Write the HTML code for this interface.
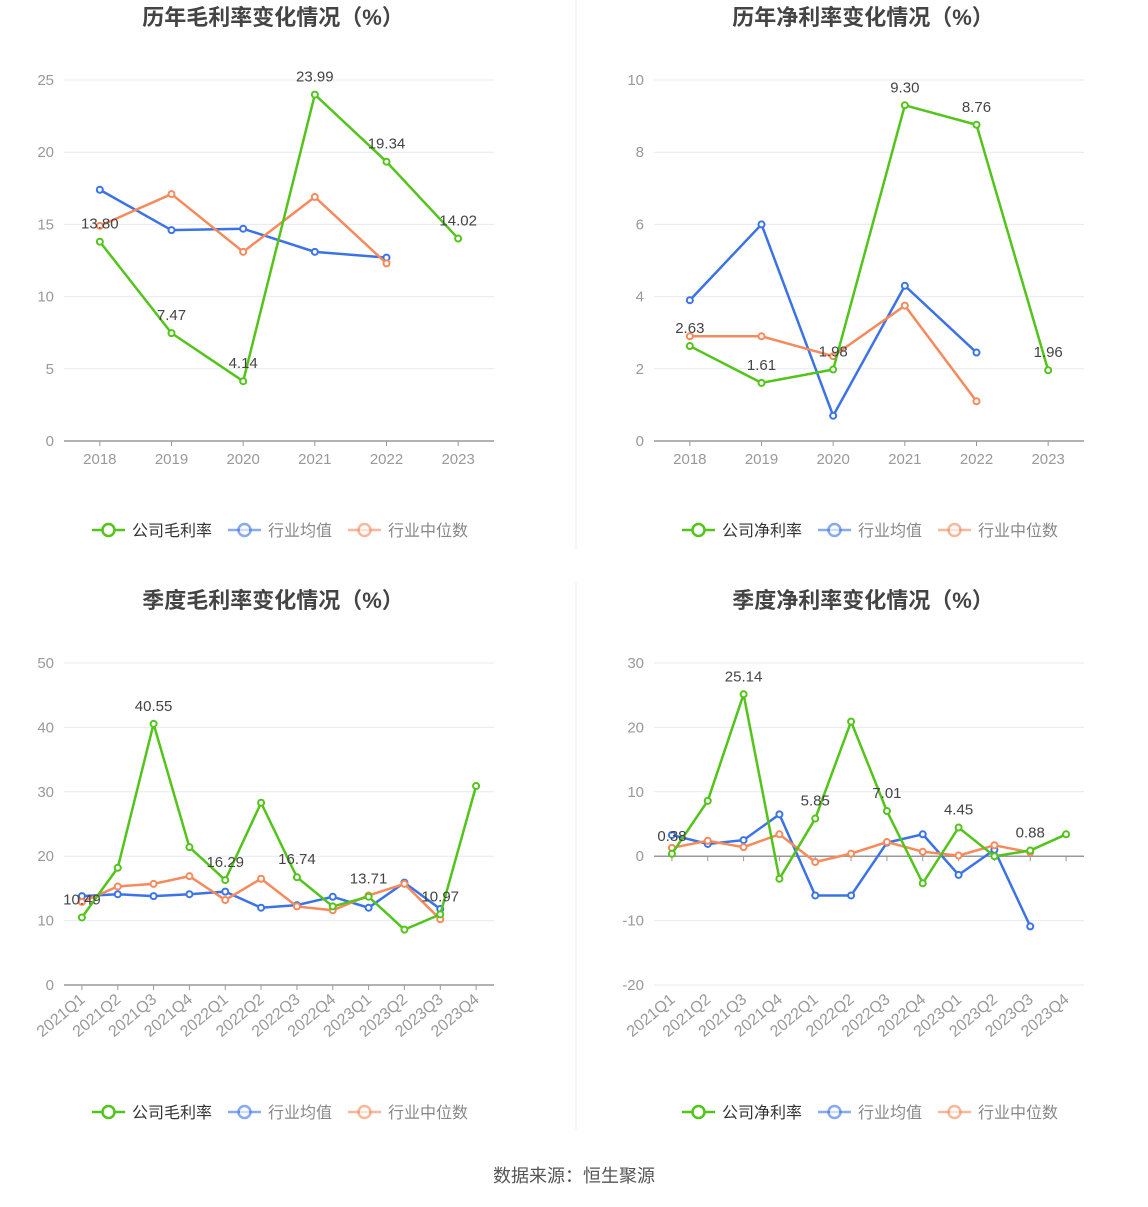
<!DOCTYPE html>
<html><head><meta charset="utf-8"><style>
body{margin:0;background:#fff;font-family:"Liberation Sans","Noto Sans CJK SC",sans-serif;}
svg text{font-family:"Liberation Sans","Noto Sans CJK SC",sans-serif;}
</style></head><body>
<svg id="s" width="1148" height="1202" xmlns="http://www.w3.org/2000/svg">
<line x1="576" y1="0" x2="576" y2="550" stroke="#eee"/>
<line x1="576" y1="582" x2="576" y2="1130" stroke="#eee"/>
<text x="574" y="1182" font-size="18" fill="#555" text-anchor="middle">数据来源：恒生聚源</text>
</svg>
<script>
const annualCats=["2018","2019","2020","2021","2022","2023"];
const quarterCats=["2021Q1","2021Q2","2021Q3","2021Q4","2022Q1","2022Q2","2022Q3","2022Q4","2023Q1","2023Q2","2023Q3","2023Q4"];
const grossCompany=[13.80,7.47,4.14,23.99,19.34,14.02];
const grossAvg=[17.4,14.6,14.7,13.1,12.7,null];
const grossMedian=[14.9,17.1,13.1,16.9,12.3,null];
const netCompany=[2.63,1.61,1.98,9.30,8.76,1.96];
const netAvg=[3.9,6.0,0.7,4.3,2.45,null];
const netMedian=[2.9,2.9,2.35,3.75,1.1,null];
const qGrossCompany=[10.49,18.2,40.55,21.4,16.29,28.3,16.74,12.2,13.71,8.6,10.97,30.9];
const qGrossAvg=[13.8,14.1,13.8,14.1,14.5,12.0,12.4,13.7,12.0,15.9,11.8,null];
const qGrossMedian=[12.9,15.3,15.7,16.9,13.2,16.5,12.2,11.6,13.9,15.7,10.2,null];
const qNetCompany=[0.38,8.6,25.14,-3.5,5.85,20.9,7.01,-4.2,4.45,0.0,0.88,3.4];
const qNetAvg=[3.3,1.9,2.5,6.5,-6.1,-6.1,2.1,3.4,-2.9,1.0,-10.9,null];
const qNetMedian=[1.3,2.4,1.4,3.4,-0.9,0.4,2.2,0.7,0.1,1.7,0.6,null];
const annualGrossTicks=[0,5,10,15,20,25];
const annualNetTicks=[0,2,4,6,8,10];
const qGrossTicks=[0,10,20,30,40,50];
const qNetTicks=[-20,-10,0,10,20,30];

const NS="http://www.w3.org/2000/svg",S=document.getElementById('s');
const G="#52c41a",B="#3b73e6",O="#f58a5c";
function mk(t,a,p){const e=document.createElementNS(NS,t);for(const k in a)e.setAttribute(k,a[k]);(p||S).appendChild(e);return e;}
function chart(o){
 const g=mk('g',{});
 
 
 const x0=o.x0,x1=o.x0+430,yT=o.yT,yB=o.yB,mn=o.ticks[0],mx=o.ticks[o.ticks.length-1];
 const Y=v=>yB-(v-mn)/(mx-mn)*(yB-yT);
 const n=o.cats.length,bw=430/n,X=i=>x0+bw*(i+0.5);
 let t=mk('text',{x:x0+209,y:o.yT-55,'font-size':22,'font-weight':'bold',fill:'#444','text-anchor':'middle'},g);t.textContent=o.title;
 
 o.ticks.forEach(v=>{
  const l=mk('line',{x1:x0,x2:x1,y1:Y(v),y2:Y(v),stroke:'#e6e9f4'},g);
  
  const tt=mk('text',{x:x0-10,y:Y(v)+5,'font-size':15,fill:'#999','text-anchor':'end'},g);tt.textContent=v;
  
 });
 const ya=Y(0);
 const ax=mk('line',{x1:x0,x2:x1,y1:ya,y2:ya,stroke:'#999','stroke-width':1.5},g);
 
 o.cats.forEach((c,i)=>{
  mk('line',{x1:X(i),x2:X(i),y1:ya,y2:ya+5,stroke:'#999'},g);
  let tx;
  if(o.rot){tx=mk('text',{x:X(i)+4,y:yB+16,'font-size':16,fill:'#999','text-anchor':'end',transform:`rotate(-40 ${X(i)+4} ${yB+16})`},g);}
  else tx=mk('text',{x:X(i),y:yB+23,'font-size':15,fill:'#999','text-anchor':'middle'},g);
  tx.textContent=c;
  
 });
 const ser=[[o.avg,B,'series-industry-avg'],[o.med,O,'series-industry-median'],[o.comp,G,'series-company']];
 ser.forEach(([d,c,nm])=>{
  const pts=d.map((v,i)=>v==null?null:[X(i),Y(v)]).filter(p=>p);
  const pl=mk('polyline',{points:pts.map(p=>p.join(',')).join(' '),fill:'none',stroke:c,'stroke-width':2.5},g);
  
  pts.forEach(p=>{const ci=mk('circle',{cx:p[0],cy:p[1],r:3,fill:'#fff',stroke:c,'stroke-width':2},g);
   });
 });
 o.comp.forEach((v,i)=>{ if(i%o.lblStep)return;
  const l=mk('text',{x:X(i),y:Y(v)-13,'font-size':15,fill:'#444','text-anchor':'middle'},g);l.textContent=v.toFixed(2);
  });
 const ly=o.legY, lx=x0+28;
 [[o.lg,G,0],['行业均值',B,136],['行业中位数',O,256]].forEach(([txt,c,dx],k)=>{
  const lg=mk('g',{},g);
  
  const op=k?0.6:1;
  mk('line',{x1:lx+dx,x2:lx+dx+33,y1:ly,y2:ly,stroke:c,'stroke-width':2.5,opacity:op},lg);
  mk('circle',{cx:lx+dx+16.5,cy:ly,r:6,fill:'#fff',stroke:c,'stroke-width':2.5,opacity:op},lg);
  const tt=mk('text',{x:lx+dx+40,y:ly+6,'font-size':16,fill:k?'#888':'#333'},lg);tt.textContent=txt;
 });
}
chart({name:'annual-gross-margin-chart',title:'历年毛利率变化情况（%）',x0:64,yT:80,yB:441,ticks:annualGrossTicks,cats:annualCats,comp:grossCompany,avg:grossAvg,med:grossMedian,lblStep:1,legY:530,lg:'公司毛利率'});
chart({name:'annual-net-margin-chart',title:'历年净利率变化情况（%）',x0:654,yT:80,yB:441,ticks:annualNetTicks,cats:annualCats,comp:netCompany,avg:netAvg,med:netMedian,lblStep:1,legY:530,lg:'公司净利率'});
chart({name:'quarterly-gross-margin-chart',title:'季度毛利率变化情况（%）',x0:64,yT:663,yB:985,ticks:qGrossTicks,cats:quarterCats,comp:qGrossCompany,avg:qGrossAvg,med:qGrossMedian,lblStep:2,legY:1112,lg:'公司毛利率',rot:true});
chart({name:'quarterly-net-margin-chart',title:'季度净利率变化情况（%）',x0:654,yT:663,yB:985,ticks:qNetTicks,cats:quarterCats,comp:qNetCompany,avg:qNetAvg,med:qNetMedian,lblStep:2,legY:1112,lg:'公司净利率',rot:true});
</script>
</body></html>
